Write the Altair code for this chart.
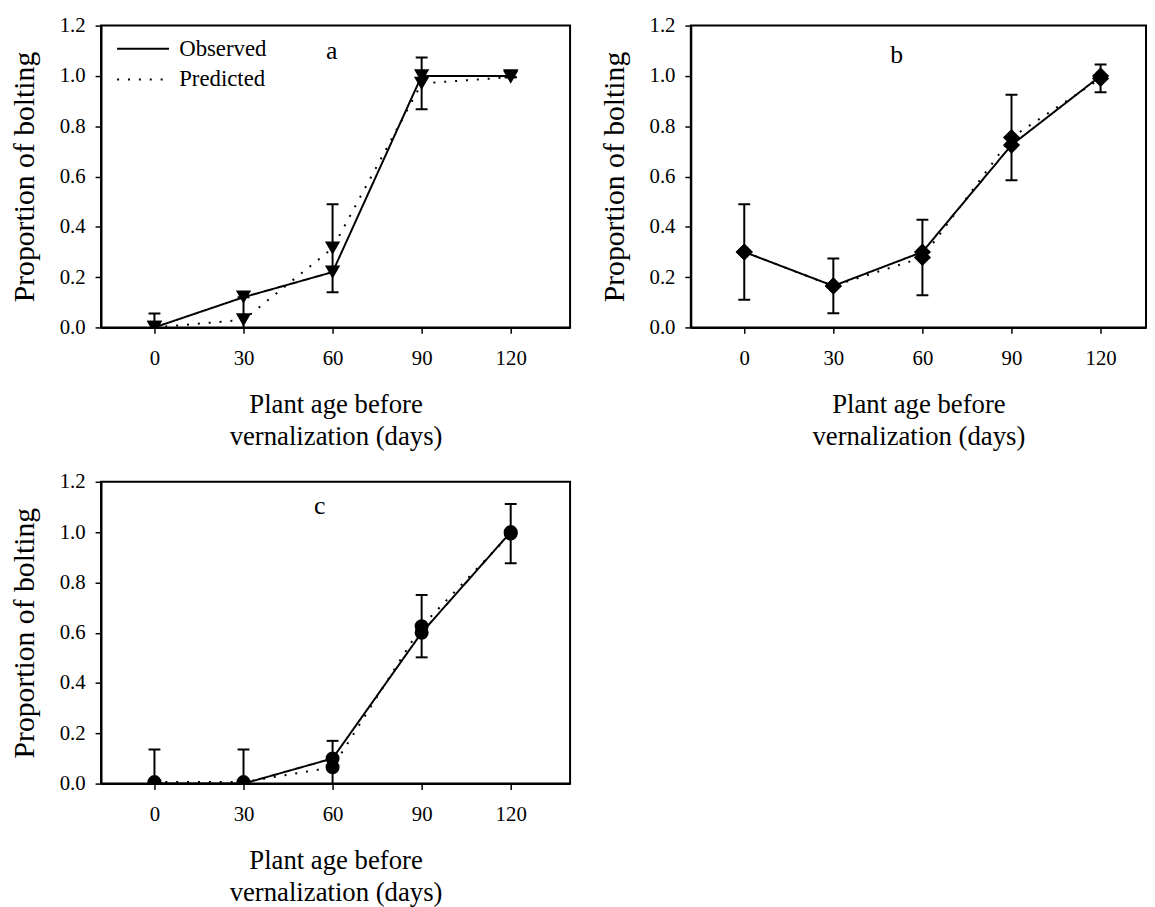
import altair as alt
import pandas as pd

days = [0, 30, 60, 90, 120]
series_names = ["Observed", "Predicted"]

# panel a
a_observed = [0.0, 0.12, 0.22, 1.0, 1.0]
a_predicted = [0.0, 0.03, 0.315, 0.97, 0.995]
a_error = [0.055, 0.09, 0.175, 0.103, 0.0]

# panel b
b_observed = [0.30, 0.165, 0.30, 0.725, 1.0]
b_predicted = [0.30, 0.165, 0.278, 0.755, 0.99]
b_error = [0.19, 0.109, 0.15, 0.17, 0.055]

# panel c
c_observed = [0.0, 0.0, 0.10, 0.60, 1.0]
c_predicted = [0.006, 0.006, 0.065, 0.626, 0.994]
c_error = [0.13, 0.13, 0.105, 0.124, 0.118]

FONT = "Liberation Serif"


def build_panel(letter, observed, predicted, error, shape, size, width, x_max, letter_x, letter_y, legend):
    lines = pd.DataFrame(
        {
            "day": days * 2,
            "value": observed + predicted,
            "series": [series_names[0]] * len(days) + [series_names[1]] * len(days),
        }
    )
    bars = pd.DataFrame({"day": days, "center": predicted, "err": error})

    x = alt.X(
        "day:Q",
        scale=alt.Scale(domain=[-18, x_max], nice=False, zero=False),
        axis=alt.Axis(
            values=days,
            title=["Plant age before", "vernalization (days)"],
            titleFontSize=27,
            titleLineHeight=32,
            titlePadding=24,
        ),
    )
    y = alt.Y(
        "value:Q",
        scale=alt.Scale(domain=[0, 1.2], nice=False),
        axis=alt.Axis(
            values=[0, 0.2, 0.4, 0.6, 0.8, 1.0, 1.2],
            format=".1f",
            title="Proportion of bolting",
            titleFontSize=30,
            titlePadding=20,
        ),
    )

    if legend:
        # a wide flat custom symbol keeps the rows close together
        dash_legend = alt.Legend(
            title=None,
            orient="none",
            legendX=31,
            legendY=12,
            symbolType="M-2.5,0H2.5",
            symbolSize=441,
            symbolStrokeWidth=2,
            symbolStrokeColor="black",
            symbolFillColor="transparent",
            labelFont=FONT,
            labelFontSize=23,
            labelColor="black",
            labelOffset=25,
            rowPadding=7,
            padding=0,
        )
    else:
        dash_legend = None

    line_layer = alt.Chart(lines).mark_line(color="black", strokeWidth=2, clip=True).encode(
        x=x,
        y=y,
        strokeDash=alt.StrokeDash(
            "series:N",
            scale=alt.Scale(domain=series_names, range=[[1, 0], [2, 9]]),
            legend=dash_legend,
        ),
    )
    point_layer = alt.Chart(lines).mark_point(
        shape=shape, filled=True, color="black", opacity=1, size=size, clip=True
    ).encode(x="day:Q", y="value:Q")

    bar_base = alt.Chart(bars).transform_calculate(
        low="datum.center - datum.err", high="datum.center + datum.err"
    )
    rule_layer = bar_base.mark_rule(color="black", strokeWidth=2, clip=True).encode(
        x="day:Q", y="low:Q", y2="high:Q"
    )
    cap_low = bar_base.mark_tick(
        orient="horizontal", color="black", size=12, thickness=2, opacity=1, clip=True
    ).encode(x="day:Q", y="low:Q")
    cap_high = bar_base.mark_tick(
        orient="horizontal", color="black", size=12, thickness=2, opacity=1, clip=True
    ).encode(x="day:Q", y="high:Q")

    # panel letter, placed in the upper part of the plot area
    letter_layer = alt.Chart(pd.DataFrame({"label": [letter]})).mark_text(
        font=FONT, fontSize=26, color="black", baseline="middle", align="center"
    ).encode(x=alt.value(letter_x), y=alt.value(letter_y), text="label:N")

    return alt.layer(line_layer, rule_layer, cap_low, cap_high, point_layer, letter_layer).properties(
        width=width, height=305
    )


panel_a = build_panel("a", a_observed, a_predicted, a_error, "triangle-down", 240, 474, 140, 233, 26, True)
panel_b = build_panel("b", b_observed, b_predicted, b_error, "diamond", 300, 460, 135.3, 208, 30, False)
panel_c = build_panel("c", c_observed, c_predicted, c_error, "circle", 200, 474, 140, 221, 25, False)

top = alt.hconcat(panel_a, panel_b, spacing=27).resolve_scale(strokeDash="independent").resolve_legend(
    strokeDash="independent"
)
chart = (
    alt.vconcat(top, panel_c, spacing=20)
    .resolve_scale(strokeDash="independent")
    .resolve_legend(strokeDash="independent")
    .properties(padding={"left": 0, "top": 1, "right": 0, "bottom": 5})
    .configure(background="white")
    .configure_view(stroke="black", strokeWidth=2)
    .configure_axis(
        grid=False,
        domainColor="black",
        domainWidth=2,
        tickColor="black",
        tickWidth=1.5,
        tickSize=6,
        labelFont=FONT,
        labelFontSize=21,
        labelColor="black",
        labelPadding=10,
        titleFont=FONT,
        titleFontWeight="normal",
        titleColor="black",
    )
    .configure_axisX(labelPadding=14)
)

chart.save("out.html", embed_options={"renderer": "svg", "actions": False})
